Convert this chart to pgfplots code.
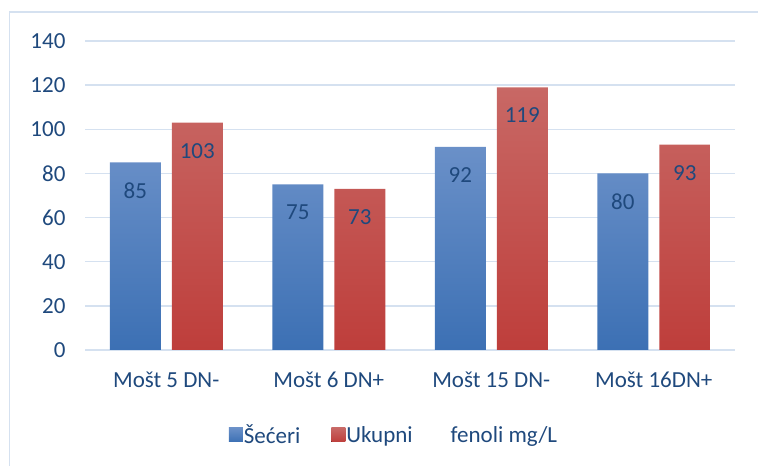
\documentclass[border=0pt]{standalone}
\usepackage{fontspec}
\setmainfont{Carlito}
\usepackage{pgfplots}
\pgfplotsset{compat=1.18}
\definecolor{txt}{RGB}{31,73,125}
\definecolor{gridc}{RGB}{213,225,240}
\definecolor{frm}{RGB}{213,225,240}
\definecolor{btop}{RGB}{106,144,200}
\definecolor{bbot}{RGB}{60,112,180}
\definecolor{rtop}{RGB}{200,104,101}
\definecolor{rbot}{RGB}{190,62,59}
\begin{document}
\begin{tikzpicture}[font=\fontsize{23}{27}\selectfont]
\useasboundingbox (0pt,0pt) rectangle (758pt,466pt);
\draw[frm, line width=1.5pt] (9.5pt,-2pt) -- (9.5pt,454pt) -- (760pt,454pt);
\begin{axis}[at={(85pt,116pt)}, anchor=south west, scale only axis,
  width=650pt, height=309pt,
  ymin=0, ymax=140, xmin=-0.5, xmax=3.5,
  ytick={0,20,...,140}, xtick={0,1,2,3},
  xticklabels={Mošt 5 DN-, Mošt 6 DN+, Mošt 15 DN-, Mošt 16DN+},
  /pgf/number format/assume math mode=true,
  axis line style={draw=none}, major tick length=0pt,
  ymajorgrids, grid style={gridc, line width=1.5pt},
  tick label style={txt},
  yticklabel style={anchor=east, xshift=-16pt},
  xticklabel style={anchor=north, yshift=-18pt},
  clip=false,
  ybar, bar width=51pt,
  nodes near coords,
  nodes near coords style={txt, anchor=center, yshift=-28pt},
  legend style={at={(axis description cs:0.4746,-0.275)}, anchor=center, draw=none, fill=none,
    legend columns=-1, inner sep=0pt,
    /tikz/every even column/.append style={column sep=30pt},
    nodes={inner sep=1pt, txt}},
  legend image code/.code={\fill[#1] (0pt,-7pt) rectangle (14pt,7pt);},
]
\addplot[draw=none, top color=btop, bottom color=bbot, bar shift=-31pt]
  coordinates {(0,85) (1,75) (2,92) (3,80)};
\addlegendentry{Šećeri}
\addplot[draw=none, top color=rtop, bottom color=rbot, bar shift=31pt]
  coordinates {(0,103) (1,73) (2,119) (3,93)};
\addlegendentry{Ukupni\hspace{38pt}fenoli mg/L}
\end{axis}
\end{tikzpicture}
\end{document}
